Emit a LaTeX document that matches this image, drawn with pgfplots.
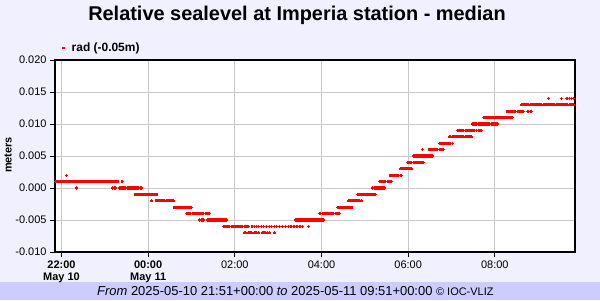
\documentclass[border=0pt]{standalone}
\usepackage{pgfplots}
\pgfplotsset{compat=1.18}
\usepackage{fontspec}
\setmainfont{Liberation Sans}
\definecolor{bgl}{RGB}{240,240,255}
\definecolor{band}{RGB}{204,204,255}
\definecolor{gridc}{RGB}{200,200,200}
\begin{document}
\begin{tikzpicture}[x=1bp,y=1bp]
\fill[bgl] (0,0) rectangle (600,300);
\fill[band] (0,0) rectangle (600,18);
\node[font=\fontsize{20}{24}\selectfont\bfseries] at (297,285) {Relative sealevel at Imperia station - median};
\node[rotate=90,font=\fontsize{11}{13}\selectfont\bfseries] at (8,145) {meters};
\node[font=\fontsize{13}{15}\selectfont, anchor=base west, inner sep=0pt] at (97,4.5) {\textit{From} 2025-05-10 21:51+00:00 \textit{to} 2025-05-11 09:51+00:00 {\fontsize{11}{13}\selectfont\textcopyright{} IOC-VLIZ}};
\begin{axis}[
  at={(55bp,48bp)}, anchor=south west,
  scale only axis, width=520bp, height=192bp,
  xmin=-9, xmax=711, ymin=-0.01, ymax=0.02,
  clip=false,
  xtick={0,120,240,360,480,600},
  xticklabels={{\textbf{22:00}\\\textbf{May 10}},{\textbf{00:00}\\\textbf{May 11}},02:00,04:00,06:00,08:00},
  ytick={-0.01,-0.005,0,0.005,0.01,0.015,0.02},
  yticklabels={-0.010,-0.005,0.000,0.005,0.010,0.015,0.020},
  scaled y ticks=false,
  xtick pos=bottom, ytick pos=left,
  grid=major, major grid style={gridc, line width=1bp},
  tick align=outside, major tick length=5bp, tick style={black, line width=1bp},
  axis line style={black, line width=1.5bp},
  axis background/.style={fill=white},
  ticklabel style={font=\fontsize{11}{12}\selectfont},
  xticklabel style={align=center, anchor=north},
  legend style={at={(axis description cs:0.008,1.062)}, anchor=west, draw=none, fill=none,
    font=\fontsize{12}{14}\selectfont\bfseries, inner sep=0pt},
  legend image code/.code={\draw[mark size=1.2bp] plot coordinates {(4bp,0bp)}; \path (0bp,0bp) (10bp,0bp);},
]
\addplot[only marks, mark=+, mark size=1.6bp, red, mark options={line width=1.4bp}] coordinates {
(-8,0.001)(-6,0.001)(-4,0.001)(-2,0.001)(0,0.001)(2,0.001)(4,0.001)(6,0.001)(8,0.001)(10,0.001)
(12,0.001)(14,0.001)(16,0.001)(18,0.001)(20,0.001)(22,0.001)(24,0.001)(26,0.001)(28,0.001)(30,0.001)
(32,0.001)(34,0.001)(36,0.001)(38,0.001)(40,0.001)(42,0.001)(44,0.001)(46,0.001)(48,0.001)(50,0.001)
(52,0.001)(54,0.001)(56,0.001)(58,0.001)(60,0.001)(62,0.001)(64,0.001)(66,0.001)(68,0.001)(70,0.001)
(72,0.001)(74,0.001)(76,0.001)(78,0.001)(84,0.001)
(7,0.002)
(21,0)(71,0)(73,0)(75,0)(81,0)(83,0)(85,0)(87,0)(89,0)(91,0)(93,0)(95,0)(97,0)(99,0)(101,0)(103,0)(105,0)(107,0)(109,0)(111,0)
(102,-0.001)(104,-0.001)(106,-0.001)(108,-0.001)(110,-0.001)(112,-0.001)(114,-0.001)(116,-0.001)(118,-0.001)(120,-0.001)
(122,-0.001)(124,-0.001)(126,-0.001)(128,-0.001)(130,-0.001)(132,-0.001)
(125,-0.002)(131,-0.002)(133,-0.002)(135,-0.002)(137,-0.002)(139,-0.002)(141,-0.002)(143,-0.002)(145,-0.002)(147,-0.002)
(149,-0.002)(151,-0.002)(153,-0.002)(155,-0.002)
(156,-0.003)(158,-0.003)(160,-0.003)(162,-0.003)(164,-0.003)(166,-0.003)(168,-0.003)(170,-0.003)(172,-0.003)(174,-0.003)
(176,-0.003)(178,-0.003)(180,-0.003)
(173,-0.004)(175,-0.004)(177,-0.004)(179,-0.004)(181,-0.004)(183,-0.004)(185,-0.004)(187,-0.004)(189,-0.004)(191,-0.004)
(193,-0.004)(195,-0.004)(197,-0.004)(199,-0.004)(201,-0.004)(203,-0.004)(205,-0.004)
(191,-0.005)(194,-0.005)(196,-0.005)(202,-0.005)(204,-0.005)(206,-0.005)(208,-0.005)(210,-0.005)(212,-0.005)(214,-0.005)
(216,-0.005)(218,-0.005)(220,-0.005)(222,-0.005)(224,-0.005)(226,-0.005)(228,-0.005)
(225,-0.006)(227,-0.006)(229,-0.006)(231,-0.006)(233,-0.006)(235,-0.006)(237,-0.006)(239,-0.006)(241,-0.006)(243,-0.006)
(245,-0.006)(247,-0.006)(249,-0.006)(251,-0.006)(253,-0.006)(255,-0.006)(257,-0.006)(259,-0.006)
(264,-0.006)(267,-0.006)(270,-0.006)(273,-0.006)(277,-0.006)(280,-0.006)(284,-0.006)(288,-0.006)(291,-0.006)(295,-0.006)
(298,-0.006)(302,-0.006)(306,-0.006)(310,-0.006)(314,-0.006)(318,-0.006)(322,-0.006)(326,-0.006)(330,-0.006)(334,-0.006)(342,-0.006)
(254,-0.007)(259,-0.007)(261,-0.007)(263,-0.007)(268,-0.007)(270,-0.007)(273,-0.007)(278,-0.007)(280,-0.007)(282,-0.007)
(285,-0.007)(288,-0.007)(295,-0.007)
(324,-0.005)(326,-0.005)(328,-0.005)(330,-0.005)(332,-0.005)(334,-0.005)(336,-0.005)(338,-0.005)(340,-0.005)(342,-0.005)
(344,-0.005)(346,-0.005)(348,-0.005)(350,-0.005)(352,-0.005)(354,-0.005)(356,-0.005)(358,-0.005)(360,-0.005)(362,-0.005)
(357,-0.004)(359,-0.004)(361,-0.004)(363,-0.004)(365,-0.004)(367,-0.004)(369,-0.004)(371,-0.004)(373,-0.004)(375,-0.004)
(377,-0.004)(379,-0.004)(381,-0.004)(383,-0.004)(385,-0.004)
(382,-0.003)(384,-0.003)(386,-0.003)(388,-0.003)(390,-0.003)(392,-0.003)(394,-0.003)(396,-0.003)(398,-0.003)(400,-0.003)(402,-0.003)
(397,-0.002)(399,-0.002)(401,-0.002)(403,-0.002)(405,-0.002)(407,-0.002)(409,-0.002)(411,-0.002)(413,-0.002)(415,-0.002)
(410,-0.001)(412,-0.001)(414,-0.001)(416,-0.001)(418,-0.001)(420,-0.001)(422,-0.001)(424,-0.001)(426,-0.001)(428,-0.001)
(430,-0.001)(432,-0.001)(434,-0.001)
(431,0)(433,0)(435,0)(437,0)(439,0)(441,0)(443,0)(445,0)(447,0)
(441,0.001)(443,0.001)(445,0.001)(447,0.001)(449,0.001)(451,0.001)(453,0.001)(455,0.001)(457,0.001)
(455,0.002)(457,0.002)(459,0.002)(461,0.002)(463,0.002)(465,0.002)(467,0.002)(469,0.002)(471,0.002)
(469,0.003)(471,0.003)(473,0.003)(475,0.003)(477,0.003)(479,0.003)(481,0.003)(483,0.003)(485,0.003)
(479,0.004)(481,0.004)(483,0.004)(485,0.004)(487,0.004)(489,0.004)(491,0.004)(493,0.004)(495,0.004)(497,0.004)(499,0.004)(501,0.004)
(488,0.005)(490,0.005)(492,0.005)(494,0.005)(496,0.005)(498,0.005)(500,0.005)(502,0.005)(504,0.005)(506,0.005)
(508,0.005)(510,0.005)(512,0.005)(514,0.005)
(500,0.006)(509,0.006)(511,0.006)(513,0.006)(515,0.006)(517,0.006)(519,0.006)(521,0.006)(523,0.006)(525,0.006)(527,0.006)(529,0.006)
(523,0.007)(525,0.007)(527,0.007)(529,0.007)(531,0.007)(533,0.007)(535,0.007)(537,0.007)(539,0.007)(541,0.007)
(537,0.008)(539,0.008)(541,0.008)(543,0.008)(545,0.008)(547,0.008)(549,0.008)(551,0.008)(553,0.008)(555,0.008)
(557,0.008)(559,0.008)(561,0.008)(563,0.008)(565,0.008)(567,0.008)
(549,0.009)(551,0.009)(553,0.009)(555,0.009)(557,0.009)(559,0.009)(561,0.009)(563,0.009)(565,0.009)(567,0.009)
(569,0.009)(571,0.009)(575,0.009)(577,0.009)(579,0.009)(581,0.009)
(569,0.010)(571,0.010)(573,0.010)(575,0.010)(577,0.010)(579,0.010)(581,0.010)(583,0.010)(585,0.010)(587,0.010)
(589,0.010)(591,0.010)(593,0.010)(595,0.010)(597,0.010)(599,0.010)(601,0.010)(603,0.010)
(584,0.011)(586,0.011)(588,0.011)(590,0.011)(592,0.011)(594,0.011)(596,0.011)(598,0.011)(600,0.011)(602,0.011)
(604,0.011)(606,0.011)(608,0.011)(610,0.011)(612,0.011)(614,0.011)(616,0.011)(618,0.011)(620,0.011)(622,0.011)(624,0.011)
(617,0.012)(619,0.012)(621,0.012)(623,0.012)(625,0.012)(627,0.012)(629,0.012)(631,0.012)(633,0.012)(635,0.012)
(637,0.012)(639,0.012)(645,0.012)(647,0.012)(649,0.012)(651,0.012)
(637,0.013)(639,0.013)(641,0.013)(643,0.013)(645,0.013)(647,0.013)(649,0.013)(651,0.013)(653,0.013)(655,0.013)
(657,0.013)(659,0.013)(661,0.013)(663,0.013)(665,0.013)(667,0.013)(669,0.013)(671,0.013)(673,0.013)(675,0.013)
(677,0.013)(679,0.013)(681,0.013)(683,0.013)(685,0.013)(687,0.013)(689,0.013)(691,0.013)(693,0.013)(695,0.013)
(697,0.013)(699,0.013)(701,0.013)(703,0.013)(705,0.013)(707,0.013)(709,0.013)
(674,0.014)(692,0.014)(700,0.014)(703,0.014)(706,0.014)(709,0.014)
};
\addlegendentry{rad (-0.05m)}
\draw[black, line width=2.5bp] (rel axis cs:0,1) -- (rel axis cs:0,0) -- (rel axis cs:1,0);
\end{axis}
\pgfresetboundingbox
\path (0,0) rectangle (600,300);
\end{tikzpicture}
\end{document}
